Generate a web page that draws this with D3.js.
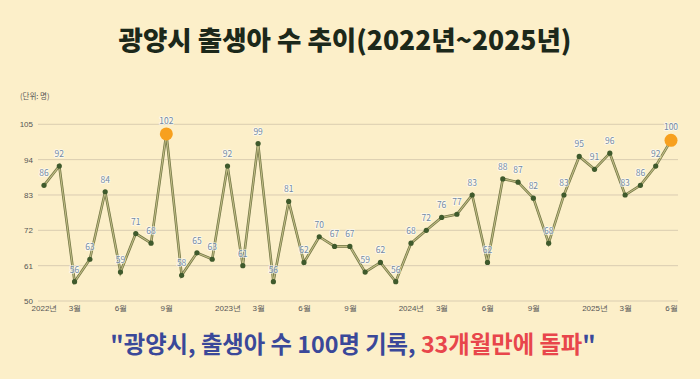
<!DOCTYPE html>
<html><head><meta charset="utf-8">
<script src="https://cdn.jsdelivr.net/npm/d3@7"></script>
<style>
html,body{margin:0;padding:0;background:#fcefc9;}
svg{display:block;font-family:"Noto Sans CJK KR","Noto Sans",sans-serif;}
</style></head><body>
<svg id="c" width="700" height="379"></svg>
<script>
const months = d3.range(42);
const births = [86,92,56,63,84,59,71,68,102,58,65,63,
                92,61,99,56,81,62,70,67,67,59,62,56,
                68,72,76,77,83,62,88,87,82,68,83,95,
                91,96,83,86,92,100];
const highlight = [8,41];
const yTicks = [50,61,72,83,94,105];
const xTickIdx = [0,2,5,8,12,14,17,20,24,26,29,32,36,38,41];
const xTickLabels = ["2022년","3월","6월","9월","2023년","3월","6월","9월","2024년","3월","6월","9월","2025년","3월","6월"];
const title = "광양시 출생아 수 추이(2022년~2025년)";
const unitLabel = "(단위: 명)";

const svg = d3.select("#c");
svg.append("rect").attr("width",700).attr("height",379).attr("fill","#fcefc9");

const x = d3.scaleLinear().domain([0,41]).range([44,671]);
const y = d3.scaleLinear().domain([50,105]).range([301,124.3]);

svg.append("text").attr("x",345).attr("y",50).attr("text-anchor","middle")
  .attr("font-size",26.5).attr("font-weight",900).attr("fill","#1c281a").text(title);

svg.append("text").attr("x",20).attr("y",99).attr("font-size",7.5).attr("fill","#555").text(unitLabel);

const g = svg.append("g");
g.selectAll("line.grid").data(yTicks).join("line")
  .attr("x1",38).attr("x2",678).attr("y1",d=>y(d)).attr("y2",d=>y(d))
  .attr("stroke","#dacdb1").attr("stroke-width",1);

const yAxis = d3.axisLeft(y).tickValues(yTicks).tickSize(0).tickPadding(0);
const ya = svg.append("g").attr("transform","translate(33,0)").call(yAxis);
ya.select(".domain").remove();
ya.selectAll("text").attr("font-size",8).attr("fill","#555").attr("font-family","inherit");

const xAxis = d3.axisBottom(x).tickValues(xTickIdx).tickSize(0).tickPadding(0)
  .tickFormat((d,i)=>xTickLabels[i]);
const xa = svg.append("g").attr("transform","translate(0,305)").call(xAxis);
xa.select(".domain").remove();
xa.selectAll("text").attr("font-size",8).attr("fill","#555").attr("font-family","inherit");

const line = d3.line().x(i=>x(i)).y(i=>y(births[i]));
svg.append("path").datum(months).attr("d",line).attr("fill","none")
  .attr("stroke","#737646").attr("stroke-width",2.6);
svg.append("path").datum(months).attr("d",line).attr("fill","none")
  .attr("stroke","#c0bd84").attr("stroke-width",1.1);

svg.selectAll("circle.pt").data(months.filter(i=>!highlight.includes(i))).join("circle")
  .attr("cx",i=>x(i)).attr("cy",i=>y(births[i])).attr("r",2.6).attr("fill","#3f5a2c");
svg.selectAll("circle.hl").data(highlight).join("circle")
  .attr("cx",i=>x(i)).attr("cy",i=>y(births[i])).attr("r",6.5).attr("fill","#f7a01e");

svg.selectAll("text.lbl").data(months).join("text")
  .attr("x",i=>x(i)).attr("y",i=>y(births[i]) - (highlight.includes(i)?10:9))
  .attr("text-anchor","middle").attr("font-size",8.5).attr("fill","#7389a2")
  .attr("stroke","#ffffff").attr("stroke-width",1.6).attr("stroke-opacity",0.7)
  .attr("paint-order","stroke")
  .text(i=>births[i]);

const sub = svg.append("text").attr("x",353).attr("y",353).attr("text-anchor","middle")
  .attr("font-size",23.3).attr("font-weight",700);
sub.append("tspan").attr("fill","#3a4899").text("\"광양시, 출생아 수 100명 기록, ");
sub.append("tspan").attr("fill","#e8464b").text("33개월만에 돌파");
sub.append("tspan").attr("fill","#3a4899").text("\"");
</script></body></html>
